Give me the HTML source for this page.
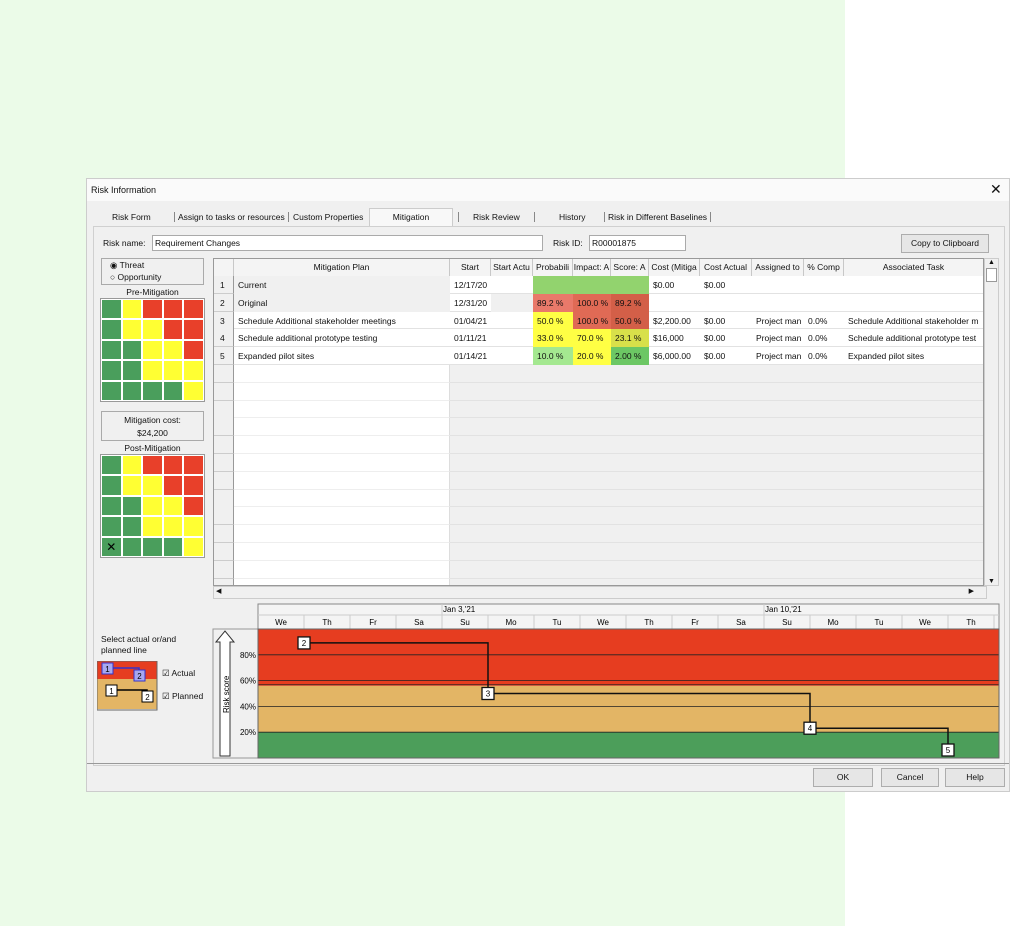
<!DOCTYPE html>
<html><head><meta charset="utf-8">
<style>
*{box-sizing:border-box}
body{margin:0;width:1010px;height:926px;background:#ebfbe8;position:relative;overflow:hidden;font-family:"Liberation Sans",sans-serif;font-size:8.5px;color:#111}
.a{position:absolute}
.cell{position:absolute;height:18px;line-height:18px;padding-left:4px;white-space:nowrap;overflow:hidden}
.hd{position:absolute;top:0;height:17px;line-height:17px;text-align:center;border-right:1px solid #c8c8c8;overflow:hidden;white-space:nowrap;background:#f4f4f4}
.btn{position:absolute;background:#e6e6e6;border:1px solid #adadad;text-align:center;line-height:17px}
.hm{position:absolute;display:grid;grid-template-columns:repeat(5,1fr);grid-template-rows:repeat(5,1fr);gap:2px;background:#fff;padding:1px;border:1px solid #999}
.hm>div{overflow:hidden;min-height:0}
</style></head><body>
<div class="a" style="left:845px;top:0;width:165px;height:926px;background:#fff"></div>
<div class="a" style="left:86px;top:178px;width:924px;height:614px;background:#f0f0f0;border:1px solid #ccc">
 <div class="a" style="left:0;top:0;width:922px;height:22px;background:#fafafa;line-height:22px;padding-left:4px;font-size:9px">Risk Information</div>
 <div class="a" style="left:903px;top:2px;font-size:14px">✕</div>
 <div class="a" style="left:7px;top:29px;width:916px;height:18px;font-size:8.5px">
  <span class="a" style="left:18px;top:4px">Risk Form</span>
  <span class="a" style="left:80px;top:4px;border-left:1px solid #888;padding-left:3px">Assign to tasks or resources</span>
  <span class="a" style="left:194px;top:4px;border-left:1px solid #888;padding-left:4px">Custom Properties</span>
  <span class="a" style="left:275px;top:0;width:84px;height:19px;background:#f8f8f8;border:1px solid #ccc;border-bottom:none;text-align:center;line-height:16px">Mitigation</span>
  <span class="a" style="left:364px;top:4px;border-left:1px solid #888;padding-left:14px">Risk Review</span>
  <span class="a" style="left:440px;top:4px;border-left:1px solid #888;padding-left:24px">History</span>
  <span class="a" style="left:510px;top:4px;border-left:1px solid #888;padding-left:3px;border-right:1px solid #888;padding-right:3px">Risk in Different Baselines</span>
 </div>
 <div class="a" style="left:6px;top:47px;width:912px;height:540px;border:1px solid #d0d0d0;background:#f0f0f0"></div>
 <span class="a" style="left:16px;top:59px">Risk name:</span>
 <div class="a" style="left:65px;top:56px;width:391px;height:16px;background:#fff;border:1px solid #aaa;padding-left:2px;line-height:14px">Requirement Changes</div>
 <span class="a" style="left:466px;top:59px">Risk ID:</span>
 <div class="a" style="left:502px;top:56px;width:97px;height:16px;background:#fff;border:1px solid #aaa;padding-left:2px;line-height:14px">R00001875</div>
 <div class="btn" style="left:814px;top:55px;width:88px;height:19px">Copy to Clipboard</div>
 <div class="a" style="left:14px;top:79px;width:103px;height:27px;border:1px solid #aaa;padding-left:8px;line-height:12px">
  <div>◉ Threat</div>
  <div>○ Opportunity</div>
 </div>
 <div class="a" style="left:14px;top:108px;width:103px;text-align:center">Pre-Mitigation</div>
 <div class="hm" id="pre" style="left:13px;top:119px;width:105px;height:104px"></div>
 <div class="a" style="left:14px;top:232px;width:103px;height:30px;border:1px solid #aaa;text-align:center;line-height:13px;padding-top:2px">Mitigation cost:<br>$24,200</div>
 <div class="a" style="left:14px;top:264px;width:103px;text-align:center">Post-Mitigation</div>
 <div class="hm" id="post" style="left:13px;top:275px;width:105px;height:104px"></div>
 <div class="a" id="grid" style="left:126px;top:79px;width:771px;height:328px;background:#f0f0f0;border:1px solid #999;overflow:hidden"></div>
 <div class="a" style="left:897px;top:79px;width:15px;height:328px;background:#f0f0f0;border:1px solid #ccc">
  <div style="text-align:center;font-size:7px">▲</div><div style="margin:2px 1px;height:14px;border:1px solid #999;background:#fff"></div>
  <div style="position:absolute;bottom:0;width:13px;text-align:center;font-size:7px">▼</div></div>
 <div class="a" style="left:126px;top:407px;width:774px;height:13px;background:#f0f0f0;border:1px solid #ccc;font-size:7px">
  <span style="position:absolute;left:2px">◀</span><span style="position:absolute;right:12px">▶</span></div>
 <div class="a" style="left:14px;top:455px;line-height:11px">Select actual or/and<br>planned line</div>
 <svg class="a" style="left:10px;top:482px" width="62" height="50">
  <rect x="0" y="0" width="60" height="18" fill="#e63d20"/><rect x="0" y="18" width="60" height="30" fill="#e3b565"/>
  <rect x="0" y="0" width="60" height="49" fill="none" stroke="#666"/>
  <polyline points="10,7 42,7 42,14" fill="none" stroke="#33c" stroke-width="1.5"/>
  <rect x="5" y="2" width="11" height="11" fill="#a8a8f0" stroke="#33c"/><text x="10.5" y="11" font-size="8" text-anchor="middle">1</text>
  <rect x="37" y="9" width="11" height="11" fill="#a8a8f0" stroke="#33c"/><text x="42.5" y="18" font-size="8" text-anchor="middle">2</text>
  <polyline points="14,29 50,29 50,35" fill="none" stroke="#000" stroke-width="1.5"/>
  <rect x="9" y="24" width="11" height="11" fill="#fff" stroke="#000"/><text x="14.5" y="33" font-size="8" text-anchor="middle">1</text>
  <rect x="45" y="30" width="11" height="11" fill="#fff" stroke="#000"/><text x="50.5" y="39" font-size="8" text-anchor="middle">2</text>
 </svg>
 <div class="a" style="left:75px;top:489px">☑ Actual</div>
 <div class="a" style="left:75px;top:512px">☑ Planned</div>
 <svg class="a" id="chart" style="left:0;top:0" width="924" height="614"></svg>
 <div class="a" style="left:0;top:584px;width:922px;border-top:1px solid #999"></div>
 <div class="btn" style="left:726px;top:589px;width:60px;height:19px">OK</div>
 <div class="btn" style="left:794px;top:589px;width:58px;height:19px">Cancel</div>
 <div class="btn" style="left:858px;top:589px;width:60px;height:19px">Help</div>
</div>
<script>
const G='#4a9e5c',Y='#ffff33',R='#e8402a';
const matrix=[[G,Y,R,R,R],[G,Y,Y,R,R],[G,G,Y,Y,R],[G,G,Y,Y,Y],[G,G,G,G,Y]];
['pre','post'].forEach(id=>{const el=document.getElementById(id);
 matrix.forEach((row,r)=>row.forEach((c,ci)=>{const d=document.createElement('div');
  
  
  d.style.background=c;
  if(id==='post'&&r===4&&ci===0){d.textContent='✕';d.style.cssText+='font-size:12px;text-align:center;line-height:18px;color:#000';}
  el.appendChild(d);}));});
const cols=[['',20],['Mitigation Plan',216],['Start',41],['Start Actu',42],['Probabili',40],['Impact: A',38],['Score: A',38],['Cost (Mitiga',51],['Cost Actual',52],['Assigned to',52],['% Comp',40],['Associated Task',140]];
const rows=[
 ['1','Current','12/17/20','','','','','$0.00','$0.00','','',''],
 ['2','Original','12/31/20','','89.2 %','100.0 %','89.2 %','','','','',''],
 ['3','Schedule Additional stakeholder meetings','01/04/21','','50.0 %','100.0 %','50.0 %','$2,200.00','$0.00','Project man','0.0%','Schedule Additional stakeholder m'],
 ['4','Schedule additional prototype testing','01/11/21','','33.0 %','70.0 %','23.1 %','$16,000','$0.00','Project man','0.0%','Schedule additional prototype test'],
 ['5','Expanded pilot sites','01/14/21','','10.0 %','20.0 %','2.00 %','$6,000.00','$0.00','Project man','0.0%','Expanded pilot sites']];
const bg=[['#92d36e','#92d36e','#92d36e'],['#e9796a','#e06a55','#d35f48'],['#ffff44','#e06a55','#d35f48'],['#ffff44','#ffff44','#d8e04a'],['#a4e890','#ffff44','#6cc764']];
const grid=document.getElementById('grid');
let x=0;const xs=[];
cols.forEach(c=>{xs.push(x);const h=document.createElement('div');h.className='hd';
 
 
 h.style.left=x+'px';h.style.width=c[1]+'px';h.textContent=c[0];grid.appendChild(h);x+=c[1];});
const RH=17.8;
for(let r=0;r<18;r++){const y=17+r*RH;
 const line=document.createElement('div');line.className='a';
 
 
 line.style.cssText=`left:0;top:${y}px;width:771px;height:${RH}px;border-bottom:1px solid #e2e2e2;background:${r<5?'#fff':'transparent'}`;
 grid.appendChild(line);
 const nb=document.createElement('div');nb.className='cell';
 
 
 nb.style.cssText+=`left:0;top:${y}px;width:20px;background:#f0f0f0;border-right:1px solid #999;border-bottom:1px solid #ccc;padding-left:6px`;
 nb.textContent=r<5?rows[r][0]:'';grid.appendChild(nb);
 if(r>=5){const w=document.createElement('div');w.className='a';
  
  
  w.style.cssText=`left:20px;top:${y}px;width:216px;height:${RH}px;background:#fff;border-bottom:1px solid #eee;border-right:1px solid #ddd`;grid.appendChild(w);}
}
rows.forEach((row,r)=>{row.forEach((v,ci)=>{if(ci===0)return;const c=document.createElement('div');c.className='cell';
 
 
 let b=(ci>=4&&ci<=6)?bg[r][ci-4]:(ci===1&&r<2?'#f0f0f0':(ci===3&&r===1?'#f0f0f0':'transparent'));
 c.style.cssText+=`left:${xs[ci]}px;top:${17+r*RH}px;width:${cols[ci][1]}px;background:${b}`;
 c.textContent=v;grid.appendChild(c);});});
const days=['We','Th','Fr','Sa','Su','Mo','Tu','We','Th','Fr','Sa','Su','Mo','Tu','We','Th'];
const weekLabels=['Jan 3,\'21','Jan 10,\'21'];
const weekIdx=[4,11];
const pointLabels=['2','3','4','5'];
const pointDay=[1,5,12,15];
const pointScore=[89.2,50.0,23.1,2.0];
const yTicks=[20,40,60,80];
const bands=[[0,20,'#4c9e5a'],[20,56,'#e3b565'],[56,100,'#e63d20']];
(function(){
 const svg=document.getElementById('chart'),NS='http://www.w3.org/2000/svg';
 const L=171,T=450,W=741,H=129,DW=46;
 const X=d=>L+d*DW,Yv=v=>T+H-v/100*H;
 function el(t,a,txt,name){const e=document.createElementNS(NS,t);for(const k in a)e.setAttribute(k,a[k]);if(txt!=null)e.textContent=txt;
  
  
  svg.appendChild(e);return e;}
 el('rect',{x:L,y:425,width:W,height:25,fill:'#f4f4f4',stroke:'#888'},null,'timeline-header');
 el('line',{x1:L,x2:L+W,y1:436,y2:436,stroke:'#ccc'},null,'timeline-divider');
 weekIdx.forEach((d,i)=>{el('line',{x1:X(d),x2:X(d),y1:425,y2:436,stroke:'#ccc'},null,'week-tick');
  el('text',{x:X(d)+1,y:433,'font-size':8},weekLabels[i],'week-label');});
 days.forEach((d,i)=>{el('line',{x1:X(i+1),x2:X(i+1),y1:436,y2:450,stroke:'#ccc'},null,'day-tick');
  el('text',{x:X(i)+DW/2,y:446,'font-size':8,'text-anchor':'middle'},d,'day-label');});
 el('rect',{x:126,y:450,width:45,height:129,fill:'#f0f0f0',stroke:'#999'},null,'y-axis-box');
 el('path',{d:'M129,463 L138,452 L147,463 L143,463 L143,577 L133,577 L133,463 Z',fill:'#fff',stroke:'#333'},null,'risk-score-arrow');
 el('text',{x:0,y:0,'font-size':8,transform:'translate(142,534) rotate(-90)'},'Risk score','y-axis-title');
 bands.forEach(b=>el('rect',{x:L,y:Yv(b[1]),width:W,height:Yv(b[0])-Yv(b[1]),fill:b[2]},null,'risk-band'));
 yTicks.forEach(t=>{el('line',{x1:L,x2:L+W,y1:Yv(t),y2:Yv(t),stroke:'#222','stroke-width':0.8},null,'gridline');
  el('text',{x:L-2,y:Yv(t)+3,'font-size':8,'text-anchor':'end'},t+'%','y-tick-label');});
 el('line',{x1:L,x2:L+W,y1:Yv(56)-1,y2:Yv(56)-1,stroke:'#222','stroke-width':0.8},null,'band-border');
 el('rect',{x:L,y:T,width:W,height:H,fill:'none',stroke:'#666'},null,'plot-border');
 let pts=[];
 for(let i=0;i<pointDay.length;i++){const px=X(pointDay[i]),py=Yv(pointScore[i]);
  if(i>0){pts.push(px+','+pts[pts.length-1].split(',')[1]);}
  pts.push(px+','+py);}
 el('polyline',{points:pts.join(' '),fill:'none',stroke:'#111','stroke-width':1.5},null,'planned-line');
 pointDay.forEach((d,i)=>{const px=X(d);let py=Yv(pointScore[i]);py=Math.min(py,T+H-8);
  el('rect',{x:px-6,y:py-6,width:12,height:12,fill:'#fff',stroke:'#111','stroke-width':1.3},null,'planned-point');
  el('text',{x:px,y:py+3,'font-size':8,'text-anchor':'middle'},pointLabels[i],'point-label');});
})();
</script>
</body></html>
